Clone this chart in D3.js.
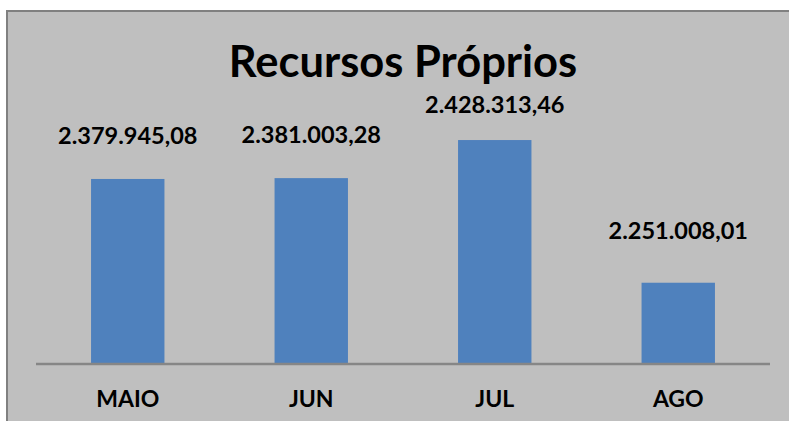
<!DOCTYPE html>
<html>
<head>
<meta charset="utf-8">
<script src="https://cdn.jsdelivr.net/npm/d3@7"></script>
<style>
  html, body { margin: 0; padding: 0; background: #ffffff; }
  svg { display: block; }
  text { font-family: Lato, "Open Sans", sans-serif; font-weight: bold; fill: #000; }
</style>
</head>
<body>
<svg id="chart" width="789" height="421"></svg>
<script>
const title = "Recursos Próprios";
const categories = ["MAIO", "JUN", "JUL", "AGO"];
const values = [2379945.08, 2381003.28, 2428313.46, 2251008.01];
const valueLabels = ["2.379.945,08", "2.381.003,28", "2.428.313,46", "2.251.008,01"];
const yDomain = [2150000, 2450000];

// label offsets above each bar (layout, not data)
const labelGap = [35, 35, 27, 44];

const W = 789, H = 421;
const svg = d3.select("#chart");

// chart area background + border
svg.append("rect")
  .attr("x", 7).attr("y", 11)
  .attr("width", W + 10).attr("height", H + 10)
  .attr("fill", "#bfbfbf")
  .attr("stroke", "#808080").attr("stroke-width", 2);

const plot = { left: 36, right: 770, top: 122.6, bottom: 364 };

const x = d3.scaleBand()
  .domain(categories)
  .range([plot.left, plot.right])
  .paddingInner(0.6)
  .paddingOuter(0.3);

const y = d3.scaleLinear()
  .domain(yDomain)
  .range([plot.bottom, plot.top]);

// bars
svg.append("g").selectAll("rect")
  .data(categories)
  .join("rect")
  .attr("x", d => x(d))
  .attr("y", (d, i) => y(values[i]))
  .attr("width", x.bandwidth())
  .attr("height", (d, i) => plot.bottom - y(values[i]))
  .attr("fill", "#4f81bd");

// x axis
const xAxis = d3.axisBottom(x).tickSize(0).tickPadding(0);
const gx = svg.append("g")
  .attr("transform", `translate(0,${plot.bottom})`)
  .call(xAxis);
gx.select(".domain").attr("stroke", "#868686").attr("stroke-width", 2.5)
  .attr("d", `M${plot.left},0H${plot.right}`);
gx.selectAll(".tick text")
  .attr("y", 42.5)
  .attr("dy", null)
  .style("font-family", "Lato, 'Open Sans', sans-serif")
  .style("font-weight", "bold")
  .style("font-size", "23px")
  .attr("fill", "#000");

// value labels
svg.append("g").selectAll("text")
  .data(categories)
  .join("text")
  .attr("x", d => x(d) + x.bandwidth() / 2)
  .attr("y", (d, i) => y(values[i]) - labelGap[i])
  .attr("text-anchor", "middle")
  .style("font-size", "23.5px")
  .text((d, i) => valueLabels[i]);

// title
svg.append("text")
  .attr("x", 403)
  .attr("y", 77)
  .attr("text-anchor", "middle")
  .style("font-size", "43.5px")
  .text(title);
</script>
</body>
</html>
